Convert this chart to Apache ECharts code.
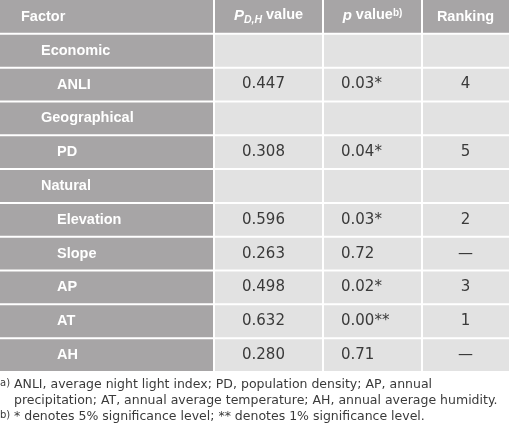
<!DOCTYPE html>
<html><head><meta charset="utf-8">
<script src="https://cdn.jsdelivr.net/npm/echarts@6/dist/echarts.min.js"></script>
<style>html,body{margin:0;padding:0;background:#fff}#c{width:509px;height:430px}</style>
</head><body><div id="c"></div>
<script>
// ---- data ----
const headers = ['Factor', 'P_D,H value', 'p value', 'Ranking'];
const factors = ['Economic','ANLI','Geographical','PD','Natural','Elevation','Slope','AP','AT','AH'];
const isGroup = [true,false,true,false,true,false,false,false,false,false];
const pdhValues = [null,0.447,null,0.308,null,0.596,0.263,0.498,0.632,0.280];
const pValues = [null,0.03,null,0.04,null,0.03,0.72,0.02,0.00,0.71];
const pStars = ['','*','','*','','*','','*','**',''];
const rankings = [null,4,null,5,null,2,null,3,1,null];
const footnoteA = ['ANLI, average night light index; PD, population density; AP, annual',
                   'precipitation; AT, annual average temperature; AH, annual average humidity.'];
const footnoteB = '* denotes 5% significance level; ** denotes 1% significance level.';

// ---- layout ----
const colEdges = [0, 214, 323, 422, 509];
const nRows = factors.length + 1;
const DARK = '#a7a5a6', LIGHT = '#e2e2e2', TXT = '#3a3a3a';
const BOLD = 'bold 14.5px "Liberation Sans", Arial, sans-serif';
const REG = '15px "DejaVu Sans", sans-serif';

const cells = [];
for (let r = 0; r < nRows; r++) for (let c = 0; c < 4; c++) cells.push([c, r]);

function cellContent(c, r) {
  if (r === 0) {
    if (c === 1) return {text: '{i|P}{sub|D,H}{b| value}', rich: true, align: 'center'};
    if (c === 2) return {text: '{i|p}{b| value}{sup|b)}', rich: true, align: 'center'};
    return {text: headers[c], align: c === 0 ? 'left' : 'center', indent: 21, bold: true};
  }
  const i = r - 1;
  if (c === 0) return {text: factors[i], align: 'left', indent: isGroup[i] ? 41 : 57, bold: true};
  if (isGroup[i]) return null;
  if (c === 1) return {text: pdhValues[i].toFixed(3), align: 'left', indent: 28};
  if (c === 2) return {text: pValues[i].toFixed(2) + pStars[i], align: 'left', indent: 18};
  return {text: rankings[i] == null ? '\u2014' : String(rankings[i]), align: 'center'};
}

function renderItem(params, api) {
  const c = api.value(0), r = api.value(1);
  const p0 = api.coord([colEdges[c], r]);
  const p1 = api.coord([colEdges[c + 1], r + 1]);
  const g = 1;
  const x = p0[0] + (c > 0 ? g : 0);
  const y = p0[1] + (r > 0 ? g : 0);
  const w = p1[0] - p0[0] - (c > 0 ? g : 0) - (c < 3 ? g : 0);
  const h = p1[1] - p0[1] - (r > 0 ? g : 0) - g;
  const dark = r === 0 || c === 0;
  const children = [{type: 'rect', shape: {x, y, width: w, height: h}, style: {fill: dark ? DARK : LIGHT}}];
  const ct = cellContent(c, r);
  if (ct) {
    const cy = (p0[1] + p1[1]) / 2;
    const tx = ct.align === 'center' ? (p0[0] + p1[0]) / 2 : p0[0] + ct.indent;
    const style = {
      text: ct.text, x: tx, y: cy, align: ct.align, verticalAlign: 'middle',
      fill: dark ? '#fff' : TXT, font: (dark || ct.bold) ? BOLD : REG
    };
    if (ct.rich) {
      style.rich = {
        i: {font: 'italic bold 15px "Liberation Sans", Arial, sans-serif', fill: '#fff', lineHeight: 18, verticalAlign: 'top'},
        b: {font: BOLD, fill: '#fff', lineHeight: 18, verticalAlign: 'top'},
        sub: {font: 'italic bold 10.5px "Liberation Sans", Arial, sans-serif', fill: '#fff', lineHeight: 9, verticalAlign: 'bottom'},
        sup: {font: 'bold 10px "Liberation Sans", Arial, sans-serif', fill: '#fff', lineHeight: 13, verticalAlign: 'top'}
      };
    }
    children.push({type: 'text', style});
  }
  return {type: 'group', children};
}

const chart = echarts.init(document.getElementById('c'), null, {renderer: 'canvas'});
const FN = '12.5px "DejaVu Sans", sans-serif';
const fnRich = {
  m: {font: FN, fill: TXT, lineHeight: 16, verticalAlign: 'top'},
  sup: {font: '10px "DejaVu Sans", sans-serif', fill: TXT, lineHeight: 11, verticalAlign: 'top', width: 14}
};
chart.setOption({
  animation: false,
  grid: {left: 0, right: 0, top: 0, height: 372},
  xAxis: {type: 'value', min: 0, max: 509, show: false},
  yAxis: {type: 'value', min: 0, max: nRows, inverse: true, show: false},
  series: [{type: 'custom', renderItem, data: cells, silent: true}],
  graphic: [
    {type: 'text', left: 0, top: 378, style: {text: '{sup|a)}{m|' + footnoteA[0] + '}', rich: fnRich}},
    {type: 'text', left: 14, top: 394, style: {text: '{m|' + footnoteA[1] + '}', rich: fnRich}},
    {type: 'text', left: 0, top: 410, style: {text: '{sup|b)}{m|' + footnoteB + '}', rich: fnRich}}
  ]
});
</script></body></html>
